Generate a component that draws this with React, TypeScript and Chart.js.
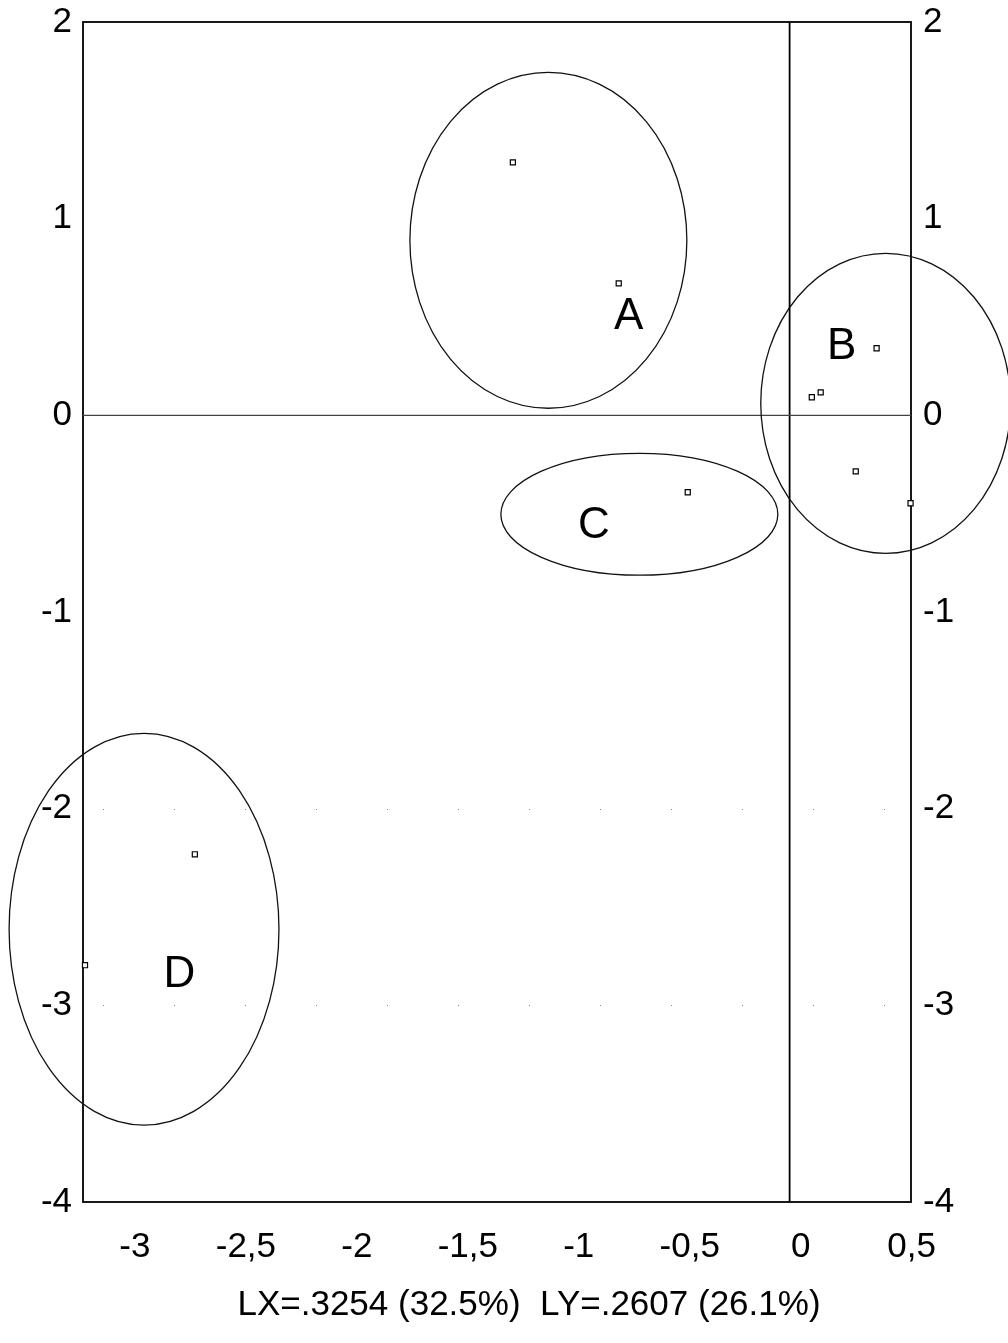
import React, { useEffect, useRef } from "react";
import { Chart, registerables } from "chart.js";

Chart.register(...registerables);

// ---- data ----
const pointX = [-1.297, -0.82, 0.342, 0.05, 0.09, 0.248, 0.495, -0.509, -2.73, -3.225];
const pointY = [1.286, 0.671, 0.341, 0.092, 0.117, -0.285, -0.447, -0.391, -2.232, -2.796];

const groupNames = ["A", "B", "C", "D"];
const groupLabelX = [-0.775, 0.185, -0.932, -2.8];
const groupLabelY = [0.513, 0.356, -0.554, -2.837];

const ellipseCX = [-1.137, 0.383, -0.727, -2.959];
const ellipseCY = [0.89, 0.061, -0.503, -2.613];
const ellipseRX = [0.624, 0.563, 0.624, 0.608];
const ellipseRY = [0.854, 0.763, 0.31, 0.996];

const xTicks = [-3, -2.5, -2, -1.5, -1, -0.5, 0, 0.5];
const yTicks = [2, 1, 0, -1, -2, -3, -4];
const xMin = -3.234;
const xMax = 0.497;
const yMin = -4;
const yMax = 2;
const refLineX = -0.05;
const refLineY = 0;
const dottedGridY = [-2, -3];
const footerText = "LX=.3254 (32.5%)  LY=.2607 (26.1%)";

const FONT = '"Liberation Sans", Arial, Helvetica, sans-serif';

const fmt = (v: number | string) => String(v).replace(".", ",");

const overlayPlugin = {
  id: "overlay",
  beforeDatasetsDraw(chart: any) {
    const { ctx, chartArea: a, scales } = chart;
    const x = scales.x;
    const y = scales.y;
    ctx.save();
    // faint dotted grid lines
    ctx.strokeStyle = "#888";
    ctx.lineWidth = 1;
    ctx.setLineDash([1, 70]);
    dottedGridY.forEach((v) => {
      const py = Math.round(y.getPixelForValue(v)) + 0.5;
      ctx.beginPath();
      ctx.moveTo(a.left + 20, py);
      ctx.lineTo(a.right, py);
      ctx.stroke();
    });
    ctx.setLineDash([]);
    // frame
    ctx.strokeStyle = "#000";
    ctx.lineWidth = 1.8;
    ctx.strokeRect(a.left, a.top, a.right - a.left, a.bottom - a.top);
    // reference lines
    const px = x.getPixelForValue(refLineX);
    ctx.beginPath();
    ctx.moveTo(px, a.top);
    ctx.lineTo(px, a.bottom);
    ctx.stroke();
    const py0 = y.getPixelForValue(refLineY);
    ctx.strokeStyle = "#444";
    ctx.lineWidth = 1.1;
    ctx.beginPath();
    ctx.moveTo(a.left, py0);
    ctx.lineTo(a.right, py0);
    ctx.stroke();
    // ellipses
    ctx.strokeStyle = "#111";
    ctx.lineWidth = 1.3;
    for (let i = 0; i < ellipseCX.length; i++) {
      const cx = x.getPixelForValue(ellipseCX[i]);
      const cy = y.getPixelForValue(ellipseCY[i]);
      const rx = Math.abs(x.getPixelForValue(ellipseCX[i] + ellipseRX[i]) - cx);
      const ry = Math.abs(y.getPixelForValue(ellipseCY[i] + ellipseRY[i]) - cy);
      ctx.beginPath();
      ctx.ellipse(cx, cy, rx, ry, 0, 0, Math.PI * 2);
      ctx.stroke();
    }
    // group labels
    ctx.fillStyle = "#000";
    ctx.font = `44px ${FONT}`;
    ctx.textAlign = "center";
    ctx.textBaseline = "middle";
    for (let i = 0; i < groupNames.length; i++) {
      ctx.fillText(
        groupNames[i],
        x.getPixelForValue(groupLabelX[i]),
        y.getPixelForValue(groupLabelY[i]) + 2
      );
    }
    ctx.restore();
  },
  afterDraw(chart: any) {
    const { ctx, chartArea: a } = chart;
    ctx.save();
    ctx.fillStyle = "#000";
    ctx.font = `35px ${FONT}`;
    ctx.textAlign = "center";
    ctx.textBaseline = "middle";
    ctx.fillText(footerText, (a.left + a.right) / 2 + 32, a.bottom + 103);
    ctx.restore();
  },
};

export default function App() {
  const ref = useRef<HTMLCanvasElement | null>(null);

  useEffect(() => {
    if (!ref.current) return;
    const tickFont = { family: FONT, size: 35 };
    const yTickValues = () => yTicks.map((v) => ({ value: v }));
    const chart = new Chart(ref.current, {
      type: "scatter",
      data: {
        datasets: [
          {
            data: pointX.map((vx, i) => ({ x: vx, y: pointY[i] })),
            pointStyle: "rect",
            pointRadius: 3.6,
            pointBorderWidth: 1.2,
            pointBorderColor: "#000",
            pointBackgroundColor: "#fff",
            clip: false as any,
          },
        ],
      },
      options: {
        animation: false,
        responsive: false,
        events: [],
        layout: { padding: { left: 0, right: 0, top: 22, bottom: 59 } },
        plugins: {
          legend: { display: false },
          tooltip: { enabled: false },
          title: { display: false },
        },
        scales: {
          x: {
            type: "linear",
            min: xMin,
            max: xMax,
            grid: { display: false, drawTicks: false },
            border: { display: false },
            afterBuildTicks: (s: any) => {
              s.ticks = xTicks.map((v) => ({ value: v }));
            },
            afterFit: (s: any) => {
              s.height = 82;
              s.paddingLeft = 0;
              s.paddingRight = 0;
            },
            ticks: {
              color: "#000",
              font: tickFont,
              padding: 24,
              maxRotation: 0,
              autoSkip: false,
              callback: (v: any) => fmt(v),
            },
          },
          y: {
            type: "linear",
            position: "left",
            min: yMin,
            max: yMax,
            grid: { display: false, drawTicks: false },
            border: { display: false },
            afterBuildTicks: (s: any) => {
              s.ticks = yTickValues();
            },
            afterFit: (s: any) => {
              s.width = 83;
              s.paddingTop = 0;
              s.paddingBottom = 0;
            },
            ticks: {
              color: "#000",
              font: tickFont,
              padding: 11,
              autoSkip: false,
              callback: (v: any) => fmt(v),
            },
          },
          y2: {
            type: "linear",
            position: "right",
            min: yMin,
            max: yMax,
            grid: { display: false, drawTicks: false },
            border: { display: false },
            afterBuildTicks: (s: any) => {
              s.ticks = yTickValues();
            },
            afterFit: (s: any) => {
              s.width = 97;
              s.paddingTop = 0;
              s.paddingBottom = 0;
            },
            ticks: {
              color: "#000",
              font: tickFont,
              padding: 12,
              autoSkip: false,
              callback: (v: any) => fmt(v),
            },
          },
        },
      },
      plugins: [overlayPlugin],
    });
    return () => chart.destroy();
  }, []);

  return (
    <div style={{ position: "absolute", left: 0, top: 0, width: 1008, height: 1343, background: "#fff" }}>
      <canvas ref={ref} width={1008} height={1343} style={{ display: "block" }} />
    </div>
  );
}
